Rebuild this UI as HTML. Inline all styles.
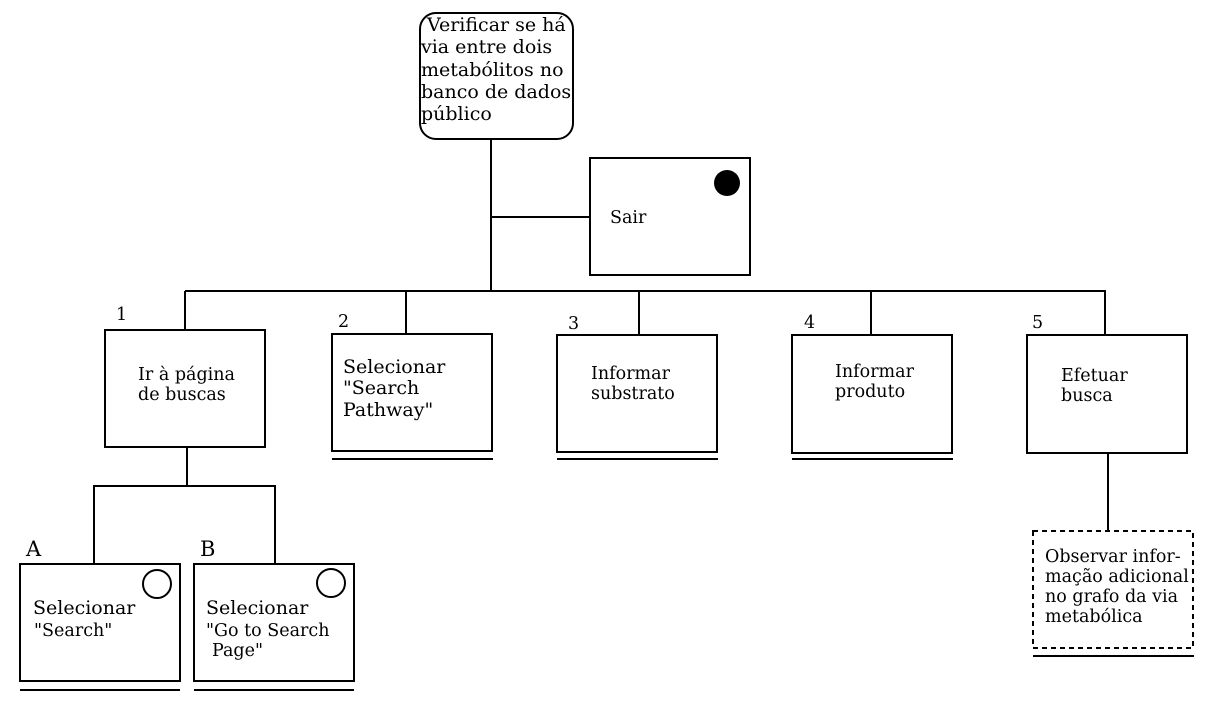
<!DOCTYPE html>
<html><head><meta charset="utf-8"><style>
html,body{margin:0;padding:0;background:#fff;}
svg{display:block;font-family:"DejaVu Serif","Liberation Serif",serif;}
</style></head><body>
<svg width="1211" height="714" viewBox="0 0 1211 714" xmlns="http://www.w3.org/2000/svg">
<g fill="none" stroke="#000" stroke-width="2">
<rect x="420" y="13" width="153" height="126" rx="16"/>
<line x1="491" y1="139" x2="491" y2="291"/>
<line x1="491" y1="217" x2="590" y2="217"/>
<rect x="590" y="158" width="160" height="117"/>
<line x1="185" y1="291" x2="1106" y2="291"/>
<line x1="185" y1="291" x2="185" y2="330"/>
<line x1="406" y1="291" x2="406" y2="334"/>
<line x1="639" y1="291" x2="639" y2="335"/>
<line x1="871" y1="291" x2="871" y2="335"/>
<line x1="1105" y1="291" x2="1105" y2="335"/>
<rect x="105" y="330" width="160" height="117"/>
<rect x="332" y="334" width="160" height="117"/>
<line x1="332" y1="459" x2="493" y2="459"/>
<rect x="557" y="335" width="160" height="117"/>
<line x1="557" y1="459" x2="718" y2="459"/>
<rect x="792" y="335" width="160" height="118"/>
<line x1="792" y1="459" x2="953" y2="459"/>
<rect x="1027" y="335" width="160" height="118"/>
<line x1="1108" y1="453" x2="1108" y2="531"/>
<rect x="1033" y="531" width="160" height="117" stroke-dasharray="5,4"/>
<line x1="1033" y1="656" x2="1194" y2="656"/>
<line x1="187" y1="447" x2="187" y2="486"/>
<line x1="93" y1="486" x2="276" y2="486"/>
<line x1="94" y1="486" x2="94" y2="564"/>
<line x1="275" y1="486" x2="275" y2="564"/>
<rect x="20" y="564" width="160" height="117"/>
<line x1="20" y1="690" x2="180" y2="690"/>
<circle cx="157" cy="584" r="14"/>
<rect x="194" y="564" width="160" height="117"/>
<line x1="194" y1="690" x2="354" y2="690"/>
<circle cx="331" cy="583" r="14"/>
</g>
<circle cx="727" cy="183" r="13" fill="#000"/>
<g fill="#000" font-size="19">
<text x="427" y="31">Verificar se há</text>
<text x="421" y="53">via entre dois</text>
<text x="421" y="76">metabólitos no</text>
<text x="421" y="98">banco de dados</text>
<text x="421" y="120">público</text>
<text x="343" y="373">Selecionar</text>
<text x="343" y="394">"Search</text>
<text x="343" y="416">Pathway"</text>
<text x="33" y="614">Selecionar</text>
<text x="206" y="614">Selecionar</text>
<text x="26" y="556" font-size="21">A</text>
<text x="200" y="556" font-size="21">B</text>
</g>
<g fill="#000" font-size="17.5">
<text x="610" y="223">Sair</text>
<text x="116" y="320">1</text>
<text x="338" y="327">2</text>
<text x="568" y="329">3</text>
<text x="804" y="328">4</text>
<text x="1032" y="328">5</text>
<text x="138" y="380">Ir à página</text>
<text x="138" y="400">de buscas</text>
<text x="591" y="379">Informar</text>
<text x="591" y="399">substrato</text>
<text x="835" y="377">Informar</text>
<text x="835" y="397">produto</text>
<text x="1061" y="381">Efetuar</text>
<text x="1061" y="401">busca</text>
<text x="34" y="636">"Search"</text>
<text x="206" y="636">"Go to Search</text>
<text x="212" y="656">Page"</text>
<text x="1045" y="562">Observar infor-</text>
<text x="1045" y="582">mação adicional</text>
<text x="1045" y="602">no grafo da via</text>
<text x="1045" y="622">metabólica</text>
</g>
</svg>
</body></html>
